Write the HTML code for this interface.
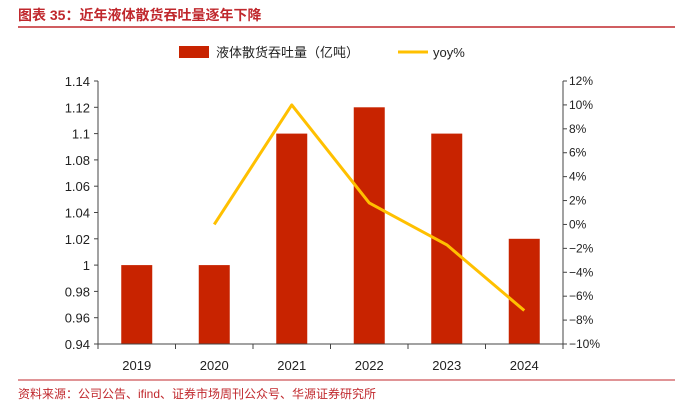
<!DOCTYPE html>
<html><head><meta charset="utf-8"><style>
body{margin:0;width:681px;height:410px;background:#fff;overflow:hidden;font-family:"Liberation Sans","Noto Sans CJK SC",sans-serif;}
</style></head><body>
<svg width="681" height="410" id="c">
<text x="18" y="20" fill="#c0282d" font-size="14" font-weight="bold" font-family="Liberation Sans,Noto Sans CJK SC,sans-serif">图表 35：近年液体散货吞吐量逐年下降</text>
<line x1="18" y1="27" x2="675" y2="27" stroke="#c0282d" stroke-width="1.5"/>
<g>
<rect x="179" y="46" width="30" height="12" fill="#c82300"/>
<text x="216" y="57" font-size="13" fill="#222">液体散货吞吐量（亿吨）</text>
<line x1="398" y1="52" x2="428" y2="52" stroke="#ffc000" stroke-width="3"/>
<text x="433" y="57" font-size="13" fill="#222">yoy%</text>
</g>
<g id="plot"></g>
<line x1="18" y1="380" x2="675" y2="380" stroke="#c0282d" stroke-width="1"/>
<text x="18" y="398" fill="#c0282d" font-size="12">资料来源：公司公告、ifind、证券市场周刊公众号、华源证券研究所</text>
</svg>
<script>
const categories=["2019","2020","2021","2022","2023","2024"];
const throughput=[1.00,1.00,1.10,1.12,1.10,1.02];
const yoy=[null,0,10,1.8,-1.7,-7.2];
const leftTicks=["1.14","1.12","1.1","1.08","1.06","1.04","1.02","1","0.98","0.96","0.94"];
const rightTicks=["12%","10%","8%","6%","4%","2%","0%","-2%","-4%","-6%","-8%","-10%"];
const NS="http://www.w3.org/2000/svg";
const g=document.getElementById('plot');
const L=98,R=563,T=81,B=344;
const yL=v=>B-(v-0.94)/(1.14-0.94)*(B-T);
const yR=v=>B-(v+10)/22*(B-T);
const bw=(R-L)/categories.length;
const xC=i=>L+bw*(i+0.5);
function mk(t,a){const e=document.createElementNS(NS,t);for(const k in a)e.setAttribute(k,a[k]);g.appendChild(e);return e;}
throughput.forEach((v,i)=>{
const r=mk('rect',{x:xC(i)-15.5,y:yL(v),width:31,height:B-yL(v),fill:'#c82300'});


});
let a=mk('line',{x1:L,y1:T,x2:L,y2:B,stroke:'#444'});


a=mk('line',{x1:R,y1:T,x2:R,y2:B,stroke:'#444'});


a=mk('line',{x1:L,y1:B,x2:R,y2:B,stroke:'#444'});


leftTicks.forEach(s=>{const v=parseFloat(s),y=yL(v);
mk('line',{x1:L-4,y1:y,x2:L,y2:y,stroke:'#444'});
const t=mk('text',{x:L-8,y:y+5,'text-anchor':'end','font-size':13,fill:'#222'});t.textContent=s;

});
rightTicks.forEach(s=>{const v=parseFloat(s),y=yR(v);
mk('line',{x1:R,y1:y,x2:R+4,y2:y,stroke:'#444'});
const t=mk('text',{x:R+6,y:y+4,'font-size':12,fill:'#222'});t.textContent=s.replace('-','−');

});
for(let i=0;i<=categories.length;i++){mk('line',{x1:L+bw*i,y1:B,x2:L+bw*i,y2:B+5,stroke:'#444'});}
categories.forEach((c,i)=>{const t=mk('text',{x:xC(i),y:B+26,'text-anchor':'middle','font-size':13,fill:'#222'});t.textContent=c;

});
const pts=yoy.map((v,i)=>v===null?null:xC(i)+','+yR(v)).filter(p=>p);
const pl=mk('polyline',{points:pts.join(' '),fill:'none',stroke:'#ffc000','stroke-width':3,'stroke-linejoin':'round'});


</script>
</body></html>
